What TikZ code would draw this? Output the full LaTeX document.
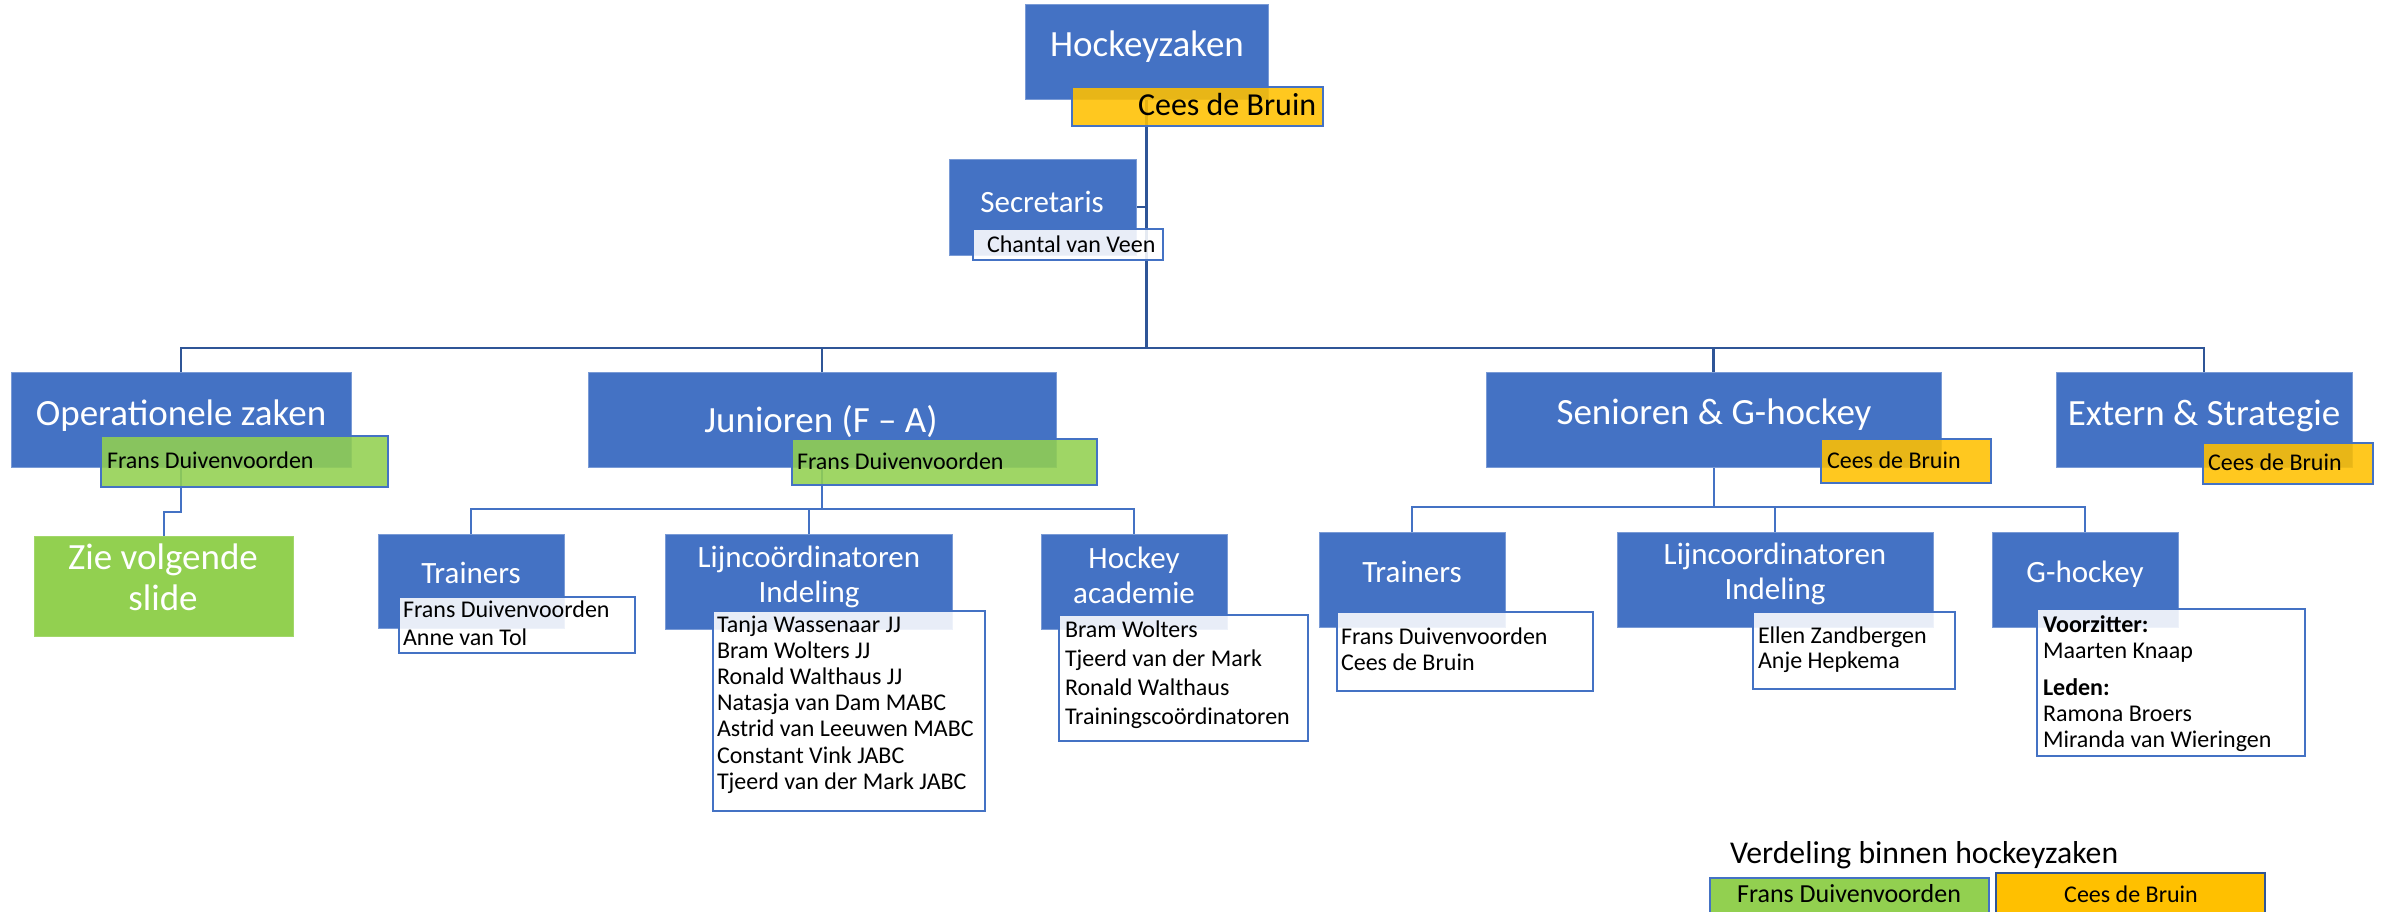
\documentclass[tikz,border=0pt]{standalone}
\usepackage{fontspec}
\setmainfont{Carlito}
\usetikzlibrary{calc}
\definecolor{cblue}{HTML}{4472C4}
\definecolor{cdark}{HTML}{2F5597}
\definecolor{cedge}{HTML}{7A9BD6}
\definecolor{cyellow}{HTML}{FFC000}
\definecolor{cgreen}{HTML}{92D050}
\pgfdeclarelayer{bg}
\pgfsetlayers{bg,main}
\newcommand{\fsz}[2]{\fontsize{#1}{#2}\selectfont}
\newcommand{\lns}[2]{\begin{tabular}[t]{@{}#1@{}}#2\end{tabular}}
\begin{document}
\begin{tikzpicture}[x=1pt,y=-1pt,
 bx/.style={rectangle,inner sep=0pt,outer sep=0pt,anchor=north west},
 bluebox/.style={bx,fill=cblue,draw=cedge,line width=1pt},
 greenbig/.style={bx,fill=cgreen,draw=cgreen!85!white,line width=1pt},
 ylab/.style={bx,fill=cyellow,fill opacity=0.88,draw=cblue,line width=2pt},
 glab/.style={bx,fill=cgreen,fill opacity=0.88,draw=cblue,line width=2pt},
 wlab/.style={bx,fill=white,fill opacity=0.88,draw=cblue,line width=2pt},
 toptxt/.style={inner sep=0pt,outer sep=0pt,text=white,font=\fsz{37}{41},anchor=base},
 subtxt/.style={inner sep=0pt,outer sep=0pt,text=white,font=\fsz{31}{35},anchor=base},
 labtxt/.style={inner sep=0pt,outer sep=0pt,text=black,font=\fsz{24}{28},anchor=base west},
 mainline/.style={draw=cdark,line width=2.5pt},
 subline/.style={draw=cblue,line width=2pt},
]
\useasboundingbox (0,0) rectangle (2384,911);

% ---- blue boxes ----
\node[bluebox,minimum width=243pt,minimum height=95pt] (hz) at (1025,4) {};
\node[bluebox,minimum width=187pt,minimum height=96pt] (sec) at (949,159) {};
\node[bluebox,minimum width=340pt,minimum height=95pt] (op) at (11,372) {};
\node[bluebox,minimum width=468pt,minimum height=95pt] (jun) at (588,372) {};
\node[bluebox,minimum width=455pt,minimum height=95pt] (sen) at (1486,372) {};
\node[bluebox,minimum width=296pt,minimum height=95pt] (ext) at (2056,372) {};
\node[greenbig,minimum width=259pt,minimum height=100pt] (zie) at (34,536) {};
\node[bluebox,minimum width=186pt,minimum height=94pt] (jtr) at (378,534) {};
\node[bluebox,minimum width=287pt,minimum height=95pt] (jl) at (665,534) {};
\node[bluebox,minimum width=186pt,minimum height=95pt] (jha) at (1041,534) {};
\node[bluebox,minimum width=186pt,minimum height=95pt] (str) at (1319,532) {};
\node[bluebox,minimum width=316pt,minimum height=95pt] (sl) at (1617,532) {};
\node[bluebox,minimum width=186pt,minimum height=95pt] (gh) at (1992,532) {};

% ---- label boxes ----
\node[ylab,minimum width=251pt,minimum height=39pt] (hzl) at (1072,87) {};
\node[wlab,minimum width=190pt,minimum height=31pt] (secl) at (973,229) {};
\node[glab,minimum width=287pt,minimum height=51pt] (opl) at (101,436) {};
\node[glab,minimum width=305pt,minimum height=46pt] (junl) at (792,439) {};
\node[ylab,minimum width=170pt,minimum height=44pt] (senl) at (1821,439) {};
\node[ylab,minimum width=170pt,minimum height=41pt] (extl) at (2203,443) {};
\node[wlab,minimum width=236pt,minimum height=56pt] (jtrl) at (399,597) {};
\node[wlab,minimum width=272pt,minimum height=200pt] (jll) at (713,611) {};
\node[wlab,minimum width=249pt,minimum height=126pt] (jhal) at (1059,615) {};
\node[wlab,minimum width=256pt,minimum height=79pt] (strl) at (1337,612) {};
\node[wlab,minimum width=202pt,minimum height=77pt] (sll) at (1753,612) {};
\node[wlab,minimum width=268pt,minimum height=147pt] (ghl) at (2037,609) {};

% ---- legend ----
\node[bx,fill=cgreen,draw=cblue,line width=2pt,minimum width=279pt,minimum height=40pt] (lg) at (1710,878) {};
\node[bx,fill=cyellow,draw=cdark,line width=2.5pt,minimum width=269pt,minimum height=45pt] (ly) at (1996,873) {};

% ---- connectors ----
\coordinate (bus) at (0,348);
\coordinate (jbus) at (0,509);
\coordinate (sbus) at (0,507);
\coordinate (zbend) at (0,512);
\begin{pgfonlayer}{bg}
\draw[mainline] (hz.south) -- (hz.south |- bus);
\draw[mainline] (sec.east) -- (sec.east -| hz.south);
\draw[mainline] (op.north) |- (ext.north |- bus) -- (ext.north);
\draw[mainline] (jun.north) -- (jun.north |- bus);
\draw[mainline] (sen.north) -- (sen.north |- bus);
\draw[subline] (op.south) -- (op.south |- zbend) -| (zie.north);
\draw[subline] (jun.south) -- (jun.south |- jbus);
\draw[subline] (jtr.north) |- (jha.north |- jbus) -- (jha.north);
\draw[subline] (jl.north) -- (jl.north |- jbus);
\draw[subline] (sen.south) -- (sen.south |- sbus);
\draw[subline] (str.north) |- (gh.north |- sbus) -- (gh.north);
\draw[subline] (sl.north) -- (sl.north |- sbus);
\end{pgfonlayer}

% ---- texts ----
\node[toptxt] (hzt) at (1147,56) {Hockeyzaken};
\node[labtxt,font=\fsz{32}{38}] (hzlt) at (1138,115) {Cees de Bruin};
\node[subtxt] (sect) at (1042,212) {Secretaris};
\node[labtxt] (seclt) at (987,252) {Chantal van Veen};
\node[toptxt] (opt) at (181,425) {Operationele zaken};
\node[labtxt] (oplt) at (107,468) {Frans Duivenvoorden};
\node[toptxt] (ziet) at (163,569) {\lns{c}{Zie volgende\\slide}};
\node[toptxt] (junt) at (821,432) {Junioren (F – A)};
\node[labtxt] (junlt) at (797,469) {Frans Duivenvoorden};
\node[toptxt] (sent) at (1714,424) {Senioren \& G-hockey};
\node[labtxt] (senlt) at (1827,468) {Cees de Bruin};
\node[toptxt] (extt) at (2204,425) {Extern \& Strategie};
\node[labtxt] (extlt) at (2208,470) {Cees de Bruin};

\node[subtxt] (jtrt) at (471,583) {Trainers};
\node[labtxt,font=\fsz{24}{28}] (jtrlt) at (403,617) {\lns{l}{Frans Duivenvoorden\\Anne van Tol}};
\node[subtxt] (jlt) at (809,567) {\lns{c}{Lijncoördinatoren\\Indeling}};
\node[labtxt,font=\fsz{24}{26.2}] (jllt) at (717,632) {\lns{l}{Tanja Wassenaar JJ\\Bram Wolters JJ\\Ronald Walthaus JJ\\Natasja van Dam MABC\\Astrid van Leeuwen MABC\\Constant Vink JABC\\Tjeerd van der Mark JABC}};
\node[subtxt] (jhat) at (1134,568) {\lns{c}{Hockey\\academie}};
\node[labtxt,font=\fsz{24}{29.3}] (jhalt) at (1065,637) {\lns{l}{Bram Wolters\\Tjeerd van der Mark\\Ronald Walthaus\\Trainingscoördinatoren}};

\node[subtxt] (strt) at (1412,582) {Trainers};
\node[labtxt,font=\fsz{24}{26}] (strlt) at (1341,644) {\lns{l}{Frans Duivenvoorden\\Cees de Bruin}};
\node[subtxt] (slt) at (1775,564) {\lns{c}{Lijncoordinatoren\\Indeling}};
\node[labtxt,font=\fsz{24}{25}] (sllt) at (1758,643) {\lns{l}{Ellen Zandbergen\\Anje Hepkema}};
\node[subtxt] (ght) at (2085,582) {G-hockey};
\node[labtxt,font=\fsz{24}{26}] (ghlt) at (2043,632) {\lns{l}{\textbf{Voorzitter:}\\Maarten Knaap\\[11pt]\textbf{Leden:}\\Ramona Broers\\Miranda van Wieringen}};

\node[labtxt,font=\fsz{31.7}{36}] (legt) at (1730,863) {Verdeling binnen hockeyzaken};
\node[labtxt,anchor=base,font=\fsz{26}{30}] (lgt) at (1849,902) {Frans Duivenvoorden};
\node[labtxt,anchor=base] (lyt) at (2131,902) {Cees de Bruin};
\end{tikzpicture}
\end{document}
